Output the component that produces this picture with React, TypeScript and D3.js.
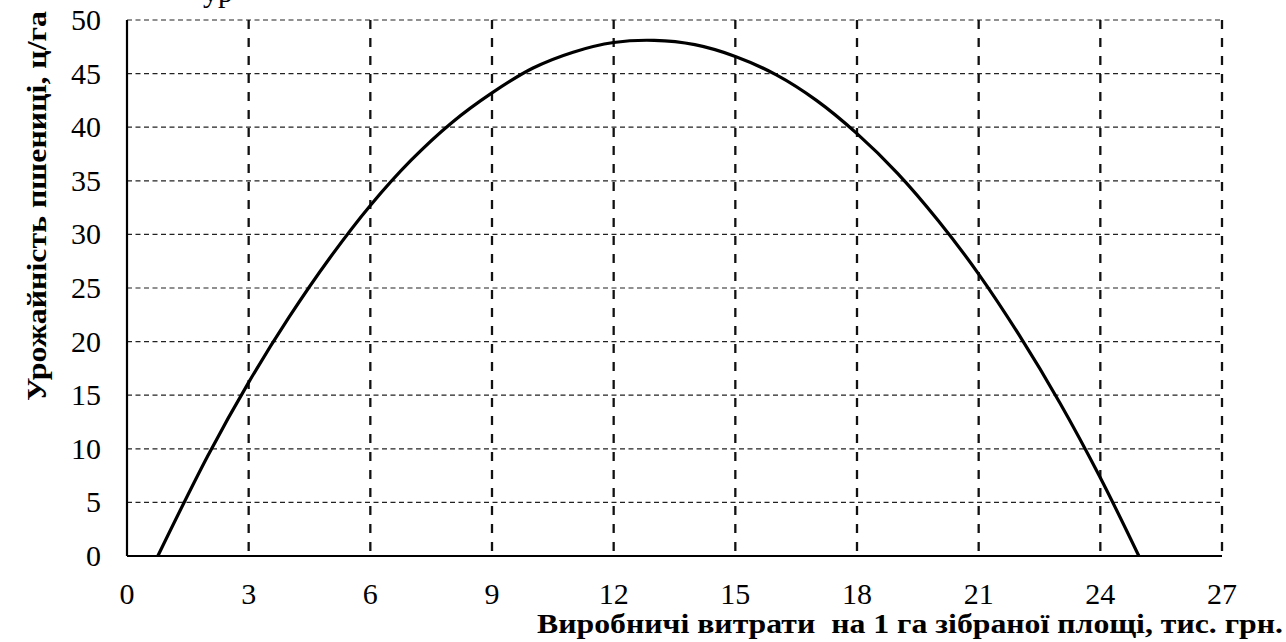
import React from 'react';
import * as d3 from 'd3';

// values
const costs = [0.76, 2, 3, 4, 5, 6, 7, 8, 9, 10, 11, 12, 13, 14, 15, 16, 17, 18, 19, 20, 21, 22, 23, 24, 24.95];
const yields = [0, 9.4, 16.2, 22.3, 27.8, 32.7, 36.9, 40.4, 43.2, 45.5, 47.0, 47.9, 48.1, 47.7, 46.6, 44.9, 42.5, 39.4, 35.7, 31.3, 26.3, 20.6, 14.3, 7.3, 0];
const xTicks = [0, 3, 6, 9, 12, 15, 18, 21, 24, 27];
const yTicks = [0, 5, 10, 15, 20, 25, 30, 35, 40, 45, 50];

const xTitle = 'Виробничі витрати  на 1 га зібраної площі, тис. грн.';
const yTitle = 'Урожайність пшениці, ц/га';

const width = 1286, height = 642;
const margin = { top: 20, right: 64, bottom: 86, left: 127 };
const font = 'Liberation Serif';

const App = () => {
  const x = d3.scaleLinear().domain([0, 27]).range([margin.left, width - margin.right]);
  const y = d3.scaleLinear().domain([0, 50]).range([height - margin.bottom, margin.top]);

  const pts = costs.map((c, i) => [c, yields[i]] as [number, number]);
  const line = d3.line<[number, number]>()
    .x(d => x(d[0]))
    .y(d => y(d[1]))
    .curve(d3.curveCatmullRom);

  return (
    <svg width={width} height={height}
      style={{ position: 'absolute', left: 0, top: 0, background: '#fff' }}>
      {/* cut-off text at top edge */}
      <text x={203} y={2} style={{ fontFamily: font, fontSize: 30 }}>ур</text>

      {/* horizontal grid */}
      <g>
        {yTicks.filter(d => d > 0).map(d => (
          <line key={d} x1={x(0)} x2={x(27)} y1={y(d)} y2={y(d)}
            stroke="#222" strokeWidth={1.2} strokeDasharray="5,3.5" />
        ))}
      </g>

      {/* vertical grid */}
      <g>
        {xTicks.filter(d => d > 0).map(d => (
          <line key={d} x1={x(d)} x2={x(d)} y1={y(50)} y2={y(0)}
            stroke="#111" strokeWidth={2.3} strokeDasharray="9,9" />
        ))}
      </g>

      {/* axes */}
      <line x1={x(0)} x2={x(0)} y1={y(50)} y2={y(0)} stroke="#000" strokeWidth={2.2} />
      <line x1={x(0)} x2={x(27)} y1={y(0)} y2={y(0)} stroke="#000" strokeWidth={2.2} />

      {/* tick labels */}
      <g style={{ fontFamily: font, fontSize: 30 }}>
        {yTicks.map(d => (
          <text key={d} x={101} y={y(d) + 10} textAnchor="end">{d}</text>
        ))}
        {xTicks.map(d => (
          <text key={d} x={x(d)} y={604} textAnchor="middle">{d}</text>
        ))}
      </g>

      {/* axis titles */}
      <text x={537} y={633} textLength={746} lengthAdjust="spacingAndGlyphs"
        style={{ fontFamily: font, fontSize: 28, fontWeight: 'bold', whiteSpace: 'pre' }}>
        {xTitle}
      </text>
      <text transform="translate(46,206) rotate(-90)" x={-195} textLength={390}
        lengthAdjust="spacingAndGlyphs"
        style={{ fontFamily: font, fontSize: 28, fontWeight: 'bold' }}>
        {yTitle}
      </text>

      {/* curve */}
      <path d={line(pts) || ''} fill="none" stroke="#000" strokeWidth={3.2} />
    </svg>
  );
};

export default App;
